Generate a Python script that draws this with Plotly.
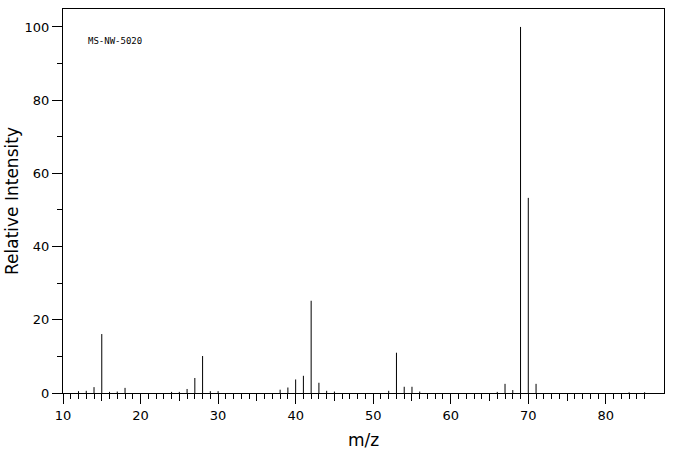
import plotly.graph_objects as go

mz = [12, 13, 14, 15, 16, 17, 18, 24, 25, 26, 27, 28, 29, 30,
      38, 39, 40, 41, 42, 43, 44, 45, 52, 53, 54, 55, 56,
      66, 67, 68, 69, 70, 71, 83, 85]
intensity = [0.5, 0.6, 1.6, 16.1, 0.3, 0.4, 1.4, 0.3, 0.3, 1.1, 4.1, 10.1, 0.5, 0.5,
             0.9, 1.5, 3.7, 4.7, 25.2, 2.8, 0.6, 0.4, 0.6, 11.0, 1.7, 1.7, 0.4,
             0.3, 2.5, 0.8, 100.0, 53.3, 2.5, 0.2, 0.2]
major_x_ticks = [10, 20, 30, 40, 50, 60, 70, 80]
mid_x_ticks = [15, 25, 35, 45, 55, 65, 75]
minor_x_ticks = list(range(10, 86))
label = "MS-NW-5020"
x_title = "m/z"
y_title = "Relative Intensity"

xs, ys = [], []
for m, v in zip(mz, intensity):
    xs += [m, m, None]
    ys += [0, v, None]

fig = go.Figure()
fig.add_trace(go.Scatter(x=xs, y=ys, mode="lines",
                         line=dict(color="black", width=1),
                         hoverinfo="skip", showlegend=False))
for ax in ("x2", "x3"):
    fig.add_trace(go.Scatter(x=[10], y=[0], xaxis=ax, mode="markers",
                             marker=dict(opacity=0), showlegend=False, hoverinfo="skip"))

font = "DejaVu Sans, sans-serif"
L, R, T, B = 63, 12, 9, 62
pw, ph = 676 - L - R, 455 - T - B
XR = [10, 87.5]
tick_common = dict(showgrid=False, zeroline=False, showline=False, automargin=False,
                   ticks="outside", tickcolor="black", tickwidth=1, showticklabels=False,
                   overlaying="x", side="bottom", anchor="y", range=XR, tickmode="array")
fig.update_layout(
    width=676, height=455,
    margin=dict(l=L, r=R, t=T, b=B, autoexpand=False),
    paper_bgcolor="white", plot_bgcolor="white",
    font=dict(family=font, color="black", size=13),
    xaxis=dict(range=XR, showgrid=False, zeroline=False, automargin=False,
               showline=True, linecolor="black", linewidth=1, mirror=True,
               ticks="outside", tickmode="array", tickvals=major_x_ticks, ticklen=10,
               tickcolor="black", tickwidth=1, tickfont=dict(size=13)),
    xaxis2=dict(tickvals=mid_x_ticks, ticklen=7, **tick_common),
    xaxis3=dict(tickvals=minor_x_ticks, ticklen=5, **tick_common),
    yaxis=dict(range=[0, 104.9], showgrid=False, zeroline=False, automargin=False,
               showline=True, linecolor="black", linewidth=1, mirror=True,
               ticks="outside", tickmode="linear", tick0=0, dtick=20, ticklen=10,
               tickcolor="black", tickwidth=1,
               minor=dict(ticks="outside", dtick=10, tick0=0, ticklen=5,
                          tickcolor="black", tickwidth=1),
               tickfont=dict(size=13)),
    annotations=[
        dict(text=label, xref="paper", yref="paper",
             x=(86 - L) / pw, y=(393 - 41) / ph, xanchor="left", yanchor="middle",
             showarrow=False, font=dict(family="DejaVu Sans Mono, monospace", size=9)),
        dict(text=x_title, xref="paper", yref="paper",
             x=(363 - L) / pw, y=(393 - 440) / ph, xanchor="center", yanchor="middle",
             showarrow=False, font=dict(size=17)),
        dict(text=y_title, xref="paper", yref="paper", textangle=-90,
             x=(12 - L) / pw, y=(393 - 201) / ph, xanchor="center", yanchor="middle",
             showarrow=False, font=dict(size=17)),
    ],
)

fig.write_html("out.html", config={"displayModeBar": False},
               post_script="document.body.style.margin='0';")
